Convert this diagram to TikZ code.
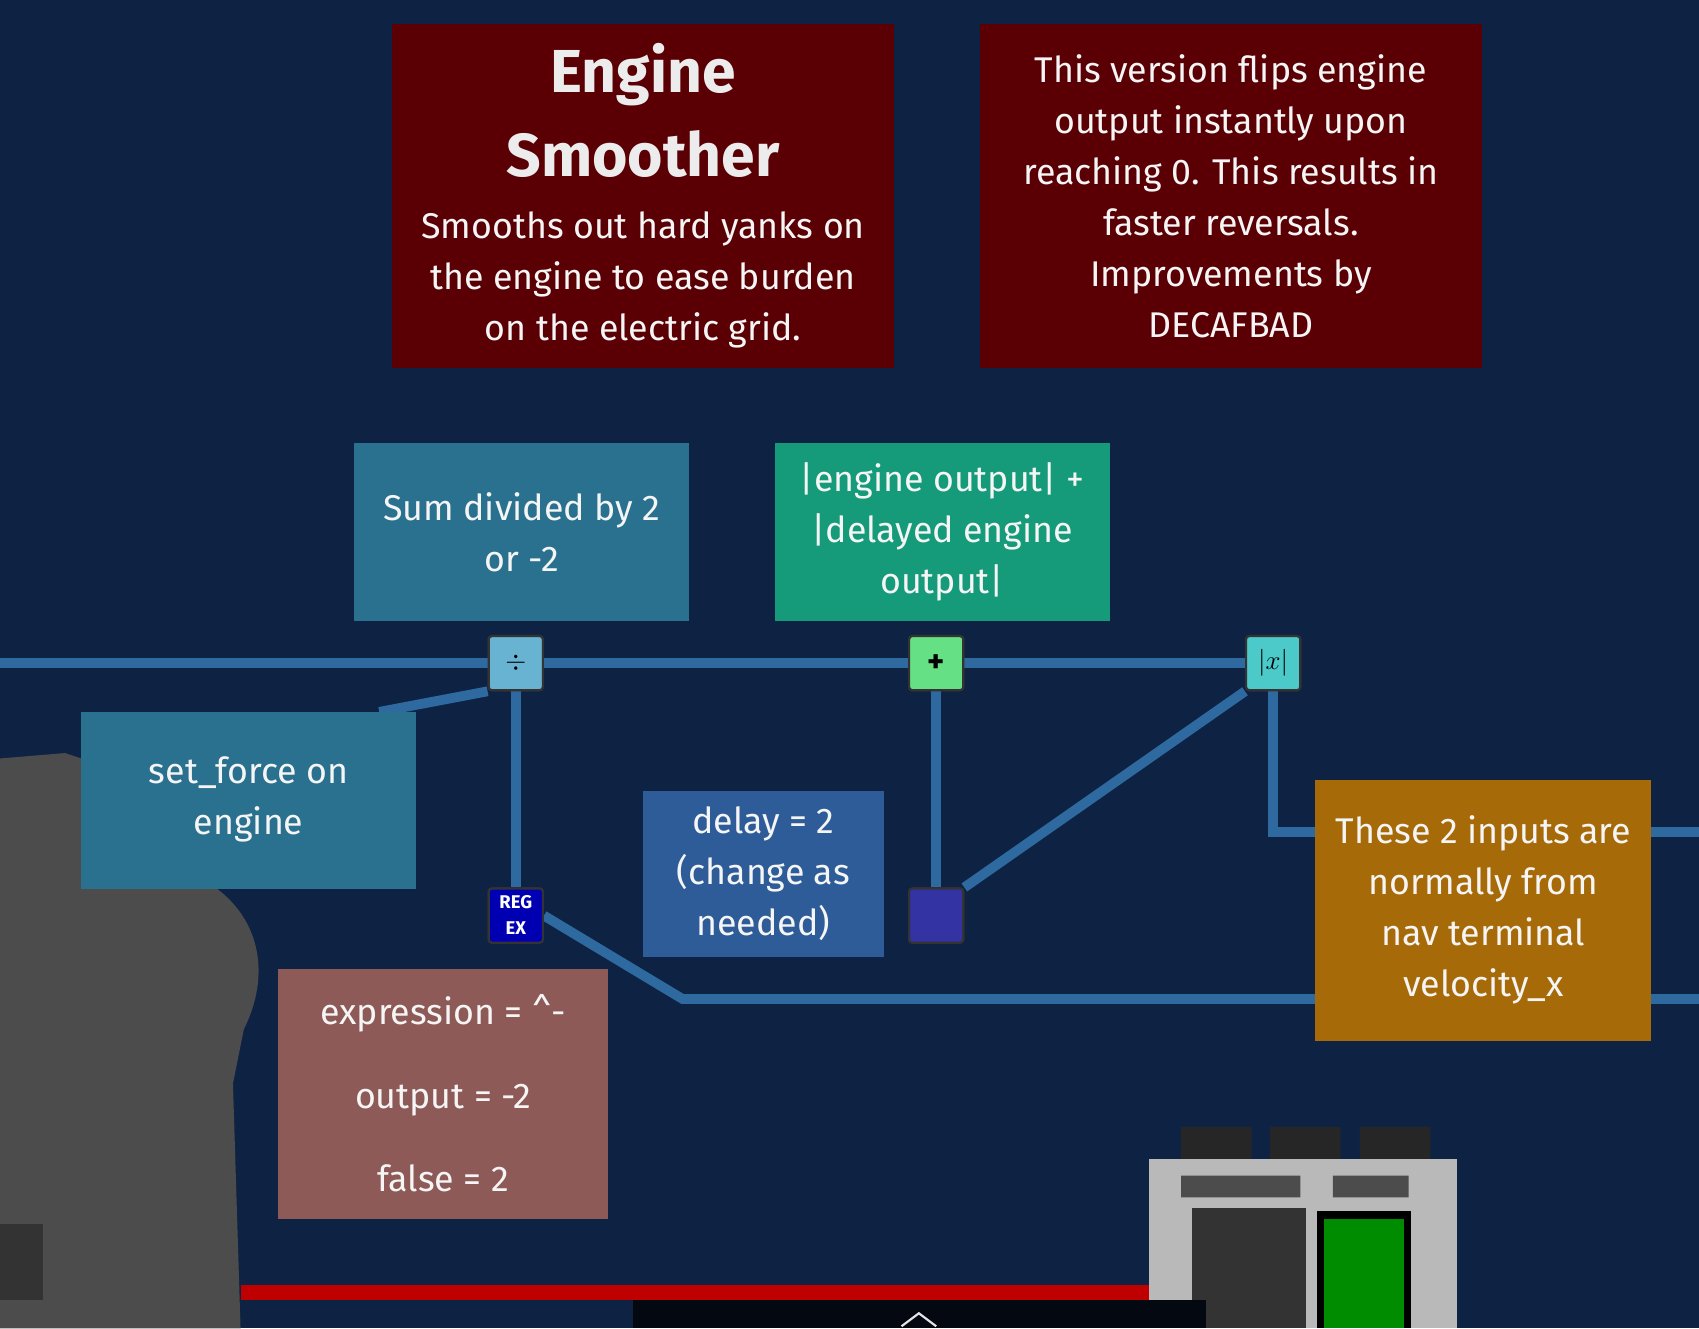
\documentclass[tikz,border=0pt]{standalone}
\usepackage{fontspec}
\setmainfont{Fira Sans}
\definecolor{bg}{HTML}{0E2344}
\definecolor{wire}{HTML}{2E6AA0}
\definecolor{dred}{HTML}{5A0004}
\definecolor{teal1}{HTML}{2A7190}
\definecolor{green1}{HTML}{159A7A}
\definecolor{blue1}{HTML}{2D5C98}
\definecolor{rose}{HTML}{8E5A57}
\definecolor{orange1}{HTML}{A66A08}
\tikzset{
 box/.style={draw=none,align=center,text=white!92!gray,font=\fontsize{33}{47}\selectfont,inner sep=0},
 w/.style={draw=wire,line width=9pt},
 comp/.style={draw=black!80,line width=2pt,rounded corners=3pt,minimum width=50pt,minimum height=50pt,inner sep=0,font=\fontsize{30}{30}\selectfont\bfseries},
}
\begin{document}
\begin{tikzpicture}[x=1pt,y=-1pt]
\useasboundingbox (0,0) rectangle (1568,1226);
\fill[bg] (0,0) rectangle (1568,1226);
% engine graphic
\fill[gray!60!black] (0,700) -- (60,695) -- (75,700) -- (75,820) -- (200,820) .. controls (240,850) and (250,900) .. (225,950) -- (215,1000) -- (222,1226) -- (0,1226) -- cycle;
\fill[gray!40!black] (0,1130) rectangle (40,1200);
% wires
\coordinate (L) at (0,612); \coordinate (R1) at (1568,768); \coordinate (R2) at (1568,922);
\coordinate (sfc) at (350,657);
\node[comp,fill=cyan!50!teal!70!white] (div) at (476,612) {\textcolor{black}{$\div$}};
\node[comp,fill=teal!40!green!60!white] (add) at (864,612) {\textcolor{black}{+}};
\node[comp,fill=teal!60!cyan!70!white] (abs) at (1175,612) {\textcolor{black}{$|x|$}};
\node[comp,fill=blue!70!black] (rgx) at (476,845) {};
\node[comp,fill=blue!55!black!80] (dly) at (864,845) {};
\draw[w] (L) -- (div.west);
\draw[w] (div.east) -- (add.west);
\draw[w] (add.east) -- (abs.west);
\draw[w] (div.south) -- (rgx.north);
\draw[w] (add.south) -- (dly.north);
\draw[w] (dly.north east) -- (abs.south west);
\draw[w] (abs.south) -- (1175,768) -- (R1);
\draw[w] (rgx.east) -- (630,922) -- (R2);
\draw[w] (div.south west) -- (sfc);
% redraw comps on top
\node[comp,fill=cyan!50!teal!70!white] at (476,612) {\textcolor{black}{$\div$}};
\node[comp,fill=teal!40!green!60!white] at (864,612) {\textcolor{black}{+}};
\node[comp,fill=teal!60!cyan!70!white] at (1175,612) {\textcolor{black}{$|x|$}};
\node[comp,fill=blue!70!black] at (476,845) {};
\node[font=\fontsize{17}{17}\selectfont\bfseries,text=white,inner sep=0] (rg1) at (476,833) {REG};
\node[font=\fontsize{17}{17}\selectfont\bfseries,text=white,inner sep=0] (rg2) at (476,857) {EX};
\node[comp,fill=blue!55!black!80] at (864,845) {};
% boxes
\fill[dred] (362,22) rectangle (825,340);
\node[box,font=\fontsize{56}{78}\selectfont\bfseries,text=white!85!gray] (t) at (593.5,102) {Engine\\Smoother};
\node[box] (td) at (593.5,258) {Smooths out hard yanks on\\the engine to ease burden\\on the electric grid.};
\fill[dred] (904,22) rectangle (1368,340);
\node[box] (n) at (1136,181) {This version flips engine\\output instantly upon\\reaching 0. This results in\\faster reversals.\\Improvements by\\DECAFBAD};
\fill[teal1] (327,409) rectangle (636,573);
\node[box] (s) at (481.5,491) {Sum divided by 2\\or -2};
\fill[green1] (715,409) rectangle (1024,573);
\node[box] (e) at (869.5,491) {|engine output| +\\|delayed engine\\output|};
\fill[teal1] (75,657) rectangle (384,820);
\node[box] (sf) at (229.5,738) {set\_force on\\engine};
\fill[blue1] (593,730) rectangle (816,883);
\node[box] (d) at (704.5,806) {delay = 2\\(change as\\needed)};
\fill[rose] (257,894) rectangle (561,1125);
\node[box,font=\fontsize{33}{77}\selectfont] (x) at (409,1009) {expression = \textasciicircum-\\output = -2\\false = 2};
\fill[orange1] (1214,720) rectangle (1524,961);
\node[box] (o) at (1369,840) {These 2 inputs are\\normally from\\nav terminal\\velocity\_x};
% red line
\fill[red!75!black] (222,1186) rectangle (1060,1200);
% device
\fill[black!85] (1090,1040) rectangle (1155,1070) (1172,1040) rectangle (1237,1070) (1255,1040) rectangle (1320,1070);
\fill[gray!55] (1060,1070) -- (1345,1070) -- (1345,1226) -- (1060,1226) -- cycle;
\fill[black!80] (1100,1115) rectangle (1205,1226);
\fill[black] (1215,1118) rectangle (1302,1226);
\fill[green!55!black] (1222,1125) rectangle (1296,1226);
\fill[black!70] (1090,1085) rectangle (1200,1105) (1230,1085) rectangle (1300,1105);
% bottom bar
\fill[black!75!bg] (584,1200) rectangle (1113,1226);
\draw[white!80!gray,line width=2pt] (832,1224) -- (848,1212) -- (864,1224);
\end{tikzpicture}
\end{document}
